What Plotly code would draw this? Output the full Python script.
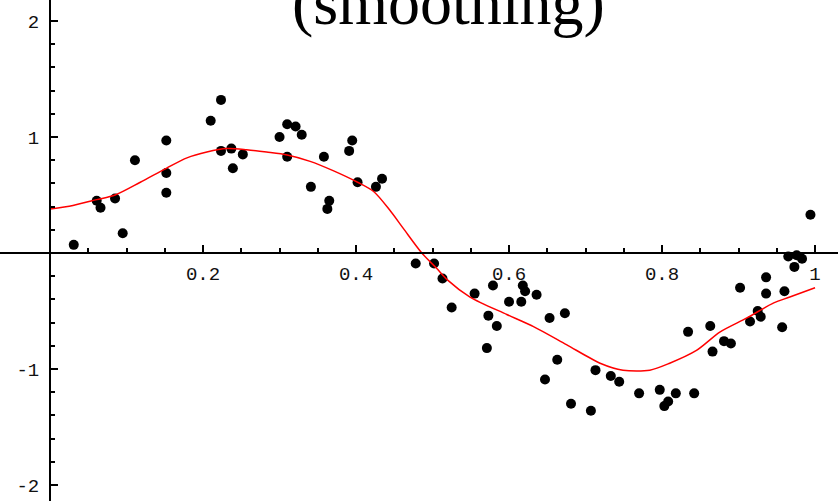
import plotly.graph_objects as go

# ---- data ----
x_pts = [0.031, 0.061, 0.066, 0.085, 0.095, 0.111, 0.152, 0.152, 0.152, 0.210,
         0.2235, 0.2235, 0.237, 0.239, 0.252, 0.300, 0.310, 0.321, 0.329, 0.310,
         0.341, 0.358, 0.365, 0.3625, 0.395, 0.391, 0.402, 0.426, 0.434, 0.478,
         0.502, 0.513, 0.525, 0.555, 0.579, 0.573, 0.584, 0.571, 0.600, 0.616,
         0.618, 0.621, 0.636, 0.653, 0.673, 0.663, 0.647, 0.681, 0.707, 0.713,
         0.733, 0.744, 0.770, 0.797, 0.803, 0.808, 0.818, 0.842, 0.834, 0.863,
         0.866, 0.881, 0.890, 0.902, 0.915, 0.925, 0.929, 0.936, 0.936, 0.960,
         0.957, 0.965, 0.976, 0.983, 0.973, 0.994]
y_pts = [0.07, 0.45, 0.39, 0.47, 0.17, 0.80, 0.97, 0.69, 0.52, 1.14,
         1.32, 0.88, 0.90, 0.73, 0.85, 1.00, 1.11, 1.09, 1.02, 0.83,
         0.57, 0.83, 0.45, 0.38, 0.97, 0.88, 0.61, 0.57, 0.64, -0.09,
         -0.09, -0.22, -0.47, -0.35, -0.28, -0.54, -0.63, -0.82, -0.42, -0.42,
         -0.28, -0.33, -0.36, -0.56, -0.52, -0.92, -1.09, -1.30, -1.36, -1.01,
         -1.06, -1.11, -1.21, -1.18, -1.32, -1.28, -1.21, -1.21, -0.68, -0.63,
         -0.85, -0.76, -0.78, -0.30, -0.59, -0.50, -0.55, -0.21, -0.35, -0.33,
         -0.64, -0.03, -0.02, -0.05, -0.12, 0.33]

curve_x = [0.000, 0.030, 0.061, 0.085, 0.118, 0.152, 0.179, 0.205, 0.231, 0.257,
           0.283, 0.310, 0.340, 0.370, 0.402, 0.423, 0.444, 0.462, 0.486, 0.505,
           0.519, 0.549, 0.597, 0.632, 0.675, 0.719, 0.749, 0.784, 0.810, 0.845,
           0.876, 0.911, 0.946, 0.967, 1.000]
curve_y = [0.38, 0.41, 0.46, 0.50, 0.61, 0.73, 0.82, 0.87, 0.90, 0.89,
           0.87, 0.845, 0.79, 0.71, 0.61, 0.53, 0.37, 0.21, 0.00, -0.13,
           -0.23, -0.38, -0.53, -0.635, -0.79, -0.95, -1.01, -1.01, -0.95, -0.84,
           -0.68, -0.56, -0.43, -0.38, -0.30]

x_tick_vals = [0.2, 0.4, 0.6, 0.8, 1.0]
x_tick_text = ["0.2", "0.4", "0.6", "0.8", "1"]
y_tick_vals = [-2, -1, 1, 2]
y_tick_text = ["-2", "-1", "1", "2"]
x_minor = [0.05, 0.1, 0.15, 0.25, 0.3, 0.35, 0.45, 0.5, 0.55, 0.65, 0.7, 0.75,
           0.85, 0.9, 0.95, 1.0]
y_minor = [-1.8, -1.6, -1.4, -1.2, -0.8, -0.6, -0.4, -0.2, 0.2, 0.4, 0.6, 0.8,
           1.2, 1.4, 1.6, 1.8]

title_text = "(smoothing)"

x_range = [-0.0654, 1.030]
y_range = [-2.138, 2.181]

fig = go.Figure()
fig.add_trace(go.Scatter(x=x_pts, y=y_pts, mode="markers",
                         marker=dict(color="black", size=10),
                         showlegend=False, hoverinfo="skip"))
fig.add_trace(go.Scatter(x=curve_x, y=curve_y, mode="lines",
                         line=dict(color="#ff0000", width=1.5, shape="spline", smoothing=0.8),
                         showlegend=False, hoverinfo="skip"))

xpos = (0 - y_range[0]) / (y_range[1] - y_range[0])
ypos = (0 - x_range[0]) / (x_range[1] - x_range[0])

tickfont = dict(family="Liberation Mono, Courier New, monospace", size=19, color="#111")

fig.update_xaxes(range=x_range, anchor="free", position=xpos, automargin=False,
                 showline=True, linecolor="black", linewidth=2,
                 showgrid=False, zeroline=False,
                 tickmode="array", tickvals=x_tick_vals, ticktext=x_tick_text,
                 ticks="inside", ticklen=7, tickwidth=1.5, tickcolor="black",
                 minor=dict(tickmode="array", tickvals=x_minor, ticks="inside",
                            ticklen=4, tickwidth=1.5, tickcolor="black"),
                 ticklabelstandoff=3,
                 tickfont=tickfont, fixedrange=True)
fig.update_yaxes(range=y_range, anchor="free", position=ypos, automargin=False,
                 showline=True, linecolor="black", linewidth=2,
                 showgrid=False, zeroline=False,
                 tickmode="array", tickvals=y_tick_vals, ticktext=y_tick_text,
                 ticks="inside", ticklen=7, tickwidth=1.5, tickcolor="black",
                 minor=dict(tickmode="array", tickvals=y_minor, ticks="inside",
                            ticklen=4, tickwidth=1.5, tickcolor="black"),
                 ticklabelstandoff=6,
                 tickfont=tickfont, fixedrange=True)

fig.add_annotation(text=title_text, xref="paper", yref="paper",
                   x=0.535, y=1.0, xanchor="center", yanchor="bottom", yshift=-40,
                   showarrow=False,
                   font=dict(family="Liberation Serif, Times New Roman, serif",
                             size=64, color="black"))

fig.update_layout(width=838, height=501,
                  margin=dict(l=0, r=0, t=0, b=0),
                  paper_bgcolor="white", plot_bgcolor="white")

fig.write_html("out.html", config={"displayModeBar": False},
               post_script="document.body.style.margin='0';document.body.style.overflow='hidden';")
